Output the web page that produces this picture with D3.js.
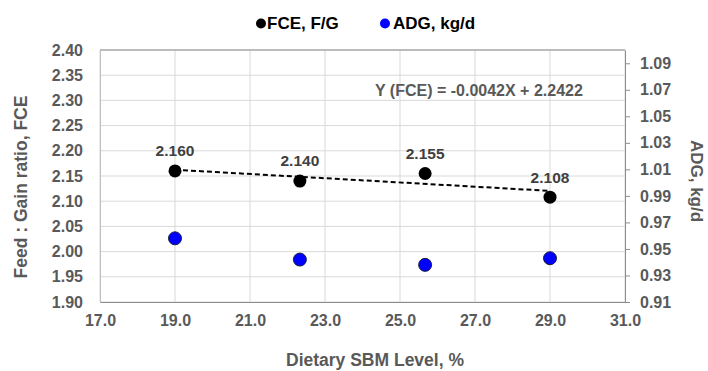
<!DOCTYPE html>
<html>
<head>
<meta charset="utf-8">
<script src="https://cdn.jsdelivr.net/npm/d3@7"></script>
<style>
  body { margin: 0; background: #fff; }
  svg { font-family: "Liberation Sans", Arial, sans-serif; font-weight: bold; }
</style>
</head>
<body>
<div id="chart"></div>
<script>
// data
const sbmLevel = [19.0, 22.33, 25.67, 29.0];
const fceValues = [2.160, 2.140, 2.155, 2.108];
const adgValues = [0.958, 0.942, 0.938, 0.943];
const fceLabels = ["2.160", "2.140", "2.155", "2.108"];
const xTicks = [17, 19, 21, 23, 25, 27, 29, 31];
const fceTicks = [1.90, 1.95, 2.00, 2.05, 2.10, 2.15, 2.20, 2.25, 2.30, 2.35, 2.40];
const adgTicks = [0.91, 0.93, 0.95, 0.97, 0.99, 1.01, 1.03, 1.05, 1.07, 1.09];
const trendSlope = -0.0042;
const trendIntercept = 2.2422;

const width = 708, height = 371;
const margin = { top: 50, right: 83, bottom: 69, left: 100 };
const textColor = "#595959";

const svg = d3.select("#chart")
  .append("svg")
    .attr("width", width)
    .attr("height", height);

const x = d3.scaleLinear()
  .domain([17, 31])
  .range([margin.left, width - margin.right]);

const y = d3.scaleLinear()
  .domain([1.90, 2.40])
  .range([height - margin.bottom, margin.top]);

const y2 = d3.scaleLinear()
  .domain([0.91, 1.10])
  .range([height - margin.bottom, margin.top]);

// gridlines
svg.append("g")
  .selectAll("line")
  .data(fceTicks)
  .join("line")
    .attr("x1", x(17))
    .attr("x2", x(31))
    .attr("y1", d => y(d))
    .attr("y2", d => y(d))
    .attr("stroke", "#d9d9d9")
    .attr("stroke-width", 1);

svg.append("g")
  .selectAll("line")
  .data(xTicks)
  .join("line")
    .attr("x1", d => x(d))
    .attr("x2", d => x(d))
    .attr("y1", y(2.40))
    .attr("y2", y(1.90))
    .attr("stroke", "#d9d9d9")
    .attr("stroke-width", 1);

// top border
svg.append("line")
  .attr("x1", x(17)).attr("x2", x(31))
  .attr("y1", y(2.40)).attr("y2", y(2.40))
  .attr("stroke", "#8c8c8c");

// left axis (labels only)
svg.append("g")
  .attr("transform", `translate(${x(17)},0)`)
  .style("font-size", "16px")
  .call(d3.axisLeft(y).tickValues(fceTicks).tickFormat(d3.format(".2f")).tickSize(0).tickPadding(17))
  .call(g => g.select(".domain").attr("stroke", "#bfbfbf"))
  .selectAll(".tick text")
    .attr("fill", textColor)
    .style("font-family", "Liberation Sans, Arial, sans-serif")
    .style("font-weight", "bold");

// bottom axis
svg.append("g")
  .attr("transform", `translate(0,${y(1.90)})`)
  .style("font-size", "16px")
  .call(d3.axisBottom(x).tickValues(xTicks).tickFormat(d3.format(".1f")).tickSize(0).tickPadding(13))
  .call(g => g.select(".domain").attr("stroke", "#8c8c8c"))
  .selectAll(".tick text")
    .attr("fill", textColor)
    .style("font-family", "Liberation Sans, Arial, sans-serif")
    .style("font-weight", "bold");

// right axis
svg.append("g")
  .attr("transform", `translate(${x(31)},0)`)
  .style("font-size", "16px")
  .call(d3.axisRight(y2).tickValues(adgTicks).tickFormat(d3.format(".2f")).tickSize(5).tickSizeOuter(0).tickPadding(10))
  .call(g => g.select(".domain").attr("stroke", "#8c8c8c"))
  .call(g => g.selectAll(".tick line").attr("stroke", "#8c8c8c"))
  .selectAll(".tick text")
    .attr("fill", textColor)
    .style("font-family", "Liberation Sans, Arial, sans-serif")
    .style("font-weight", "bold");

// trendline
svg.append("line")
  .attr("x1", x(sbmLevel[0]))
  .attr("x2", x(sbmLevel[sbmLevel.length - 1]))
  .attr("y1", y(trendSlope * sbmLevel[0] + trendIntercept))
  .attr("y2", y(trendSlope * sbmLevel[sbmLevel.length - 1] + trendIntercept))
  .attr("stroke", "#000")
  .attr("stroke-width", 2)
  .attr("stroke-dasharray", "5,3");

// ADG points
svg.append("g")
  .selectAll("circle")
  .data(adgValues)
  .join("circle")
    .attr("cx", (d, i) => x(sbmLevel[i]))
    .attr("cy", d => y2(d))
    .attr("r", 6.5)
    .attr("fill", "#0000ff")
    .attr("stroke", "#1c1c40")
    .attr("stroke-width", 1);

// FCE points
svg.append("g")
  .selectAll("circle")
  .data(fceValues)
  .join("circle")
    .attr("cx", (d, i) => x(sbmLevel[i]))
    .attr("cy", d => y(d))
    .attr("r", 6.5)
    .attr("fill", "#000");

// FCE data labels
svg.append("g")
  .selectAll("text")
  .data(fceValues)
  .join("text")
    .attr("x", (d, i) => x(sbmLevel[i]))
    .attr("y", d => y(d) - 20)
    .attr("dy", "0.35em")
    .attr("text-anchor", "middle")
    .style("font-size", "15.5px")
    .attr("fill", "#404040")
    .text((d, i) => fceLabels[i]);

// equation
svg.append("text")
  .attr("x", 375)
  .attr("y", 90)
  .attr("dy", "0.35em")
  .style("font-size", "16px")
  .attr("fill", textColor)
  .text(`Y (FCE) = ${trendSlope}X + ${trendIntercept}`);

// axis titles
svg.append("text")
  .attr("transform", "translate(21,187) rotate(-90)")
  .attr("dy", "0.35em")
  .attr("text-anchor", "middle")
  .style("font-size", "17.5px")
  .attr("fill", textColor)
  .text("Feed : Gain ratio, FCE");

svg.append("text")
  .attr("transform", "translate(697,181) rotate(90)")
  .attr("dy", "0.35em")
  .attr("text-anchor", "middle")
  .style("font-size", "17px")
  .attr("fill", textColor)
  .text("ADG, kg/d");

svg.append("text")
  .attr("x", 375)
  .attr("y", 366)
  .attr("text-anchor", "middle")
  .style("font-size", "17.5px")
  .attr("fill", textColor)
  .text("Dietary SBM Level, %");

// legend
const legendItems = [
  { label: "FCE, F/G", color: "#000", cx: 261, tx: 267 },
  { label: "ADG, kg/d", color: "#0000ff", cx: 385, tx: 393 }
];
const legend = svg.append("g");
legend.selectAll("circle")
  .data(legendItems)
  .join("circle")
    .attr("cx", d => d.cx)
    .attr("cy", 23.5)
    .attr("r", 5)
    .attr("fill", d => d.color);
legend.selectAll("text")
  .data(legendItems)
  .join("text")
    .attr("x", d => d.tx)
    .attr("y", 23.5)
    .attr("dy", "0.35em")
    .style("font-size", "17px")
    .attr("fill", "#000")
    .text(d => d.label);
</script>
</body>
</html>
